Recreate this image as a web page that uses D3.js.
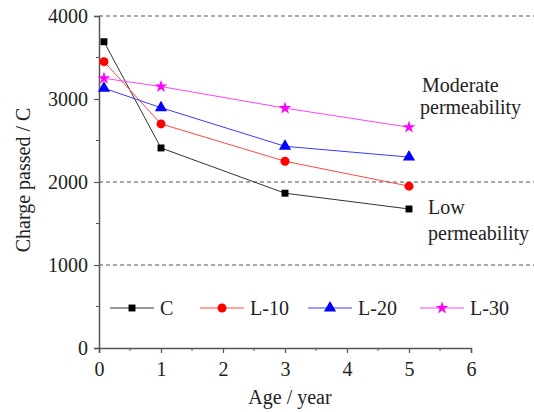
<!DOCTYPE html>
<html>
<head>
<meta charset="utf-8">
<script src="https://cdn.jsdelivr.net/npm/d3@7"></script>
<style>
  body { margin: 0; background: #fff; }
  svg { display: block; font-family: "Liberation Serif", "DejaVu Serif", serif; }
</style>
</head>
<body>
<svg id="chart" width="534" height="412"></svg>
<script>
// Chart data
const ages = [0.08, 1, 3, 5];
const seriesNames = ['C', 'L-10', 'L-20', 'L-30'];
const valuesC = [3690, 2410, 1865, 1675];
const valuesL10 = [3450, 2700, 2250, 1950];
const valuesL20 = [3130, 2895, 2430, 2300];
const valuesL30 = [3250, 3150, 2890, 2660];
const xTicks = [0, 1, 2, 3, 4, 5, 6];
const yTicks = [0, 1000, 2000, 3000, 4000];
const gridValues = [1000, 2000, 4000];

const series = [
    {name: seriesNames[0], values: valuesC, color: '#000000', line: '#333333', symbol: d3.symbolSquare, size: 48},
    {name: seriesNames[1], values: valuesL10, color: '#ff0000', line: '#ff4a4a', symbol: d3.symbolCircle, size: 64},
    {name: seriesNames[2], values: valuesL20, color: '#0000ff', line: '#3a3aff', symbol: d3.symbolTriangle, size: 64},
    {name: seriesNames[3], values: valuesL30, color: '#ff00ff', line: '#ff44ff', symbol: d3.symbolStar, size: 50}
];

const svg = d3.select('#chart');
const x = d3.scaleLinear().domain([0, 6]).range([99, 471]);
const y = d3.scaleLinear().domain([0, 4000]).range([348, 16]);

// Dashed grid lines
svg.append('g').selectAll('line')
    .data(gridValues)
    .join('line')
    .attr('x1', x(0))
    .attr('x2', 534)
    .attr('y1', d => y(d))
    .attr('y2', d => y(d))
    .attr('stroke', '#555')
    .attr('stroke-width', 1)
    .attr('stroke-dasharray', '4,3');

// Axes
const xAxis = svg.append('g')
    .attr('transform', `translate(0,${y(0)})`)
    .call(d3.axisBottom(x).tickValues(xTicks).tickSize(5).tickPadding(9).tickFormat(d3.format('d')));
xAxis.append('g').selectAll('line')
    .data(d3.range(0.5, 6, 1))
    .join('line')
    .attr('x1', d => x(d)).attr('x2', d => x(d))
    .attr('y1', 0).attr('y2', 3)
    .attr('stroke', '#555');

const yAxis = svg.append('g')
    .attr('transform', `translate(${x(0)},0)`)
    .call(d3.axisLeft(y).tickValues(yTicks).tickSize(5).tickPadding(6).tickFormat(d3.format('d')));
yAxis.append('g').selectAll('line')
    .data(d3.range(500, 4000, 1000))
    .join('line')
    .attr('x1', 0).attr('x2', -3)
    .attr('y1', d => y(d)).attr('y2', d => y(d))
    .attr('stroke', '#555');

[xAxis, yAxis].forEach(axis => {
    axis.select('.domain').attr('stroke', '#555').attr('stroke-width', 1.5);
    axis.selectAll('.tick line').attr('stroke', '#555').attr('stroke-width', 1.2);
    axis.selectAll('.tick text')
        .attr('fill', '#222')
        .style('font-family', '"Liberation Serif", serif')
        .style('font-size', '20px');
});

// Series lines and markers
const line = d3.line()
    .x((d, i) => x(ages[i]))
    .y(d => y(d));

series.forEach(s => {
    svg.append('path')
        .datum(s.values)
        .attr('d', line)
        .attr('fill', 'none')
        .attr('stroke', s.line)
        .attr('stroke-width', 1);

    svg.append('g').selectAll('path')
        .data(s.values)
        .join('path')
        .attr('transform', (d, i) => `translate(${x(ages[i])},${y(d)})`)
        .attr('d', d3.symbol().type(s.symbol).size(s.size))
        .attr('fill', s.color);
});

// Legend
const legendX = [110, 200, 308, 420];
const legend = svg.append('g').attr('transform', 'translate(0,308)');
series.forEach((s, i) => {
    const g = legend.append('g').attr('transform', `translate(${legendX[i]},0)`);
    g.append('line')
        .attr('x1', 0).attr('x2', 44)
        .attr('y1', 0).attr('y2', 0)
        .attr('stroke', s.line)
        .attr('stroke-width', 1);
    g.append('path')
        .attr('transform', 'translate(22,0)')
        .attr('d', d3.symbol().type(s.symbol).size(s.size))
        .attr('fill', s.color);
    g.append('text')
        .attr('x', 50)
        .attr('y', 7)
        .attr('fill', '#222')
        .style('font-size', '20px')
        .text(s.name);
});

// Annotations
const notes = [
    {text: 'Moderate', x: 422, y: 92},
    {text: 'permeability', x: 420, y: 114},
    {text: 'Low', x: 428, y: 214},
    {text: 'permeability', x: 428, y: 240}
];
svg.append('g').selectAll('text')
    .data(notes)
    .join('text')
    .attr('x', d => d.x)
    .attr('y', d => d.y)
    .attr('fill', '#222')
    .style('font-size', '20px')
    .text(d => d.text);

// Axis titles
svg.append('text')
    .attr('x', 290)
    .attr('y', 404)
    .attr('text-anchor', 'middle')
    .attr('fill', '#222')
    .style('font-size', '20px')
    .text('Age / year');

svg.append('text')
    .attr('transform', 'translate(30,180) rotate(-90)')
    .attr('text-anchor', 'middle')
    .attr('fill', '#222')
    .style('font-size', '20px')
    .text('Charge passed / C');
</script>
</body>
</html>
